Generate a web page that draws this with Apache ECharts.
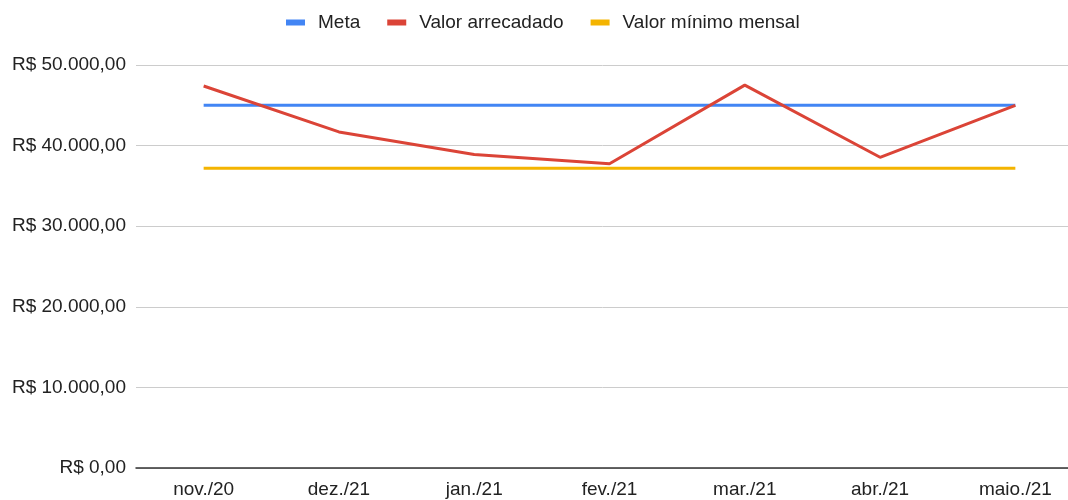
<!DOCTYPE html>
<html>
<head>
<meta charset="utf-8">
<script src="https://cdn.jsdelivr.net/npm/echarts@6/dist/echarts.min.js"></script>
<style>
  html, body { margin: 0; padding: 0; background: #fff; }
  #chart { width: 1068px; height: 500px; }
</style>
</head>
<body>
<div id="chart"></div>
<script>
// dados
const meses = ['nov./20', 'dez./21', 'jan./21', 'fev./21', 'mar./21', 'abr./21', 'maio./21'];
const meta = [45000, 45000, 45000, 45000, 45000, 45000, 45000];
const valorArrecadado = [47400, 41700, 38900, 37750, 47500, 38550, 45000];
const valorMinimo = [37200, 37200, 37200, 37200, 37200, 37200, 37200];

// formata como moeda brasileira: R$ 50.000,00
const formatBRL = (v) => {
  const parts = Math.round(v).toString().replace(/\B(?=(\d{3})+(?!\d))/g, '.');
  return 'R$ ' + parts + ',00';
};

const chart = echarts.init(document.getElementById('chart'));

const lineSeries = (name, data, color) => ({
  name,
  type: 'line',
  data,
  symbol: 'none',
  lineStyle: { color, width: 3 },
  itemStyle: { color },
  emphasis: { disabled: true }
});

chart.setOption({
  animation: false,
  textStyle: { fontFamily: '"Liberation Sans", Arial, sans-serif' },
  legend: {
    top: 8,
    left: 281,
    itemWidth: 19,
    itemHeight: 6,
    itemGap: 27,
    icon: 'rect',
    textStyle: { fontSize: 19, color: '#222', padding: [0, 0, 0, 8] },
    data: ['Meta', 'Valor arrecadado', 'Valor mínimo mensal']
  },
  grid: { left: 136, right: -15, top: 65, bottom: 32, containLabel: false, outerBoundsMode: 'none' },
  xAxis: {
    type: 'category',
    data: meses,
    boundaryGap: true,
    axisLine: { lineStyle: { color: '#333', width: 1.5 } },
    axisTick: { show: false },
    axisLabel: { color: '#222', fontSize: 19, margin: 12, interval: 0 },
    splitLine: { show: false }
  },
  yAxis: {
    type: 'value',
    min: 0,
    max: 50000,
    interval: 10000,
    axisLine: { show: false },
    axisTick: { show: false },
    axisLabel: { color: '#222', fontSize: 19, margin: 10, formatter: formatBRL },
    splitLine: { lineStyle: { color: '#cccccc', width: 1 } }
  },
  series: [
    lineSeries('Meta', meta, '#4285F4'),
    lineSeries('Valor arrecadado', valorArrecadado, '#DB4437'),
    lineSeries('Valor mínimo mensal', valorMinimo, '#F4B400')
  ]
});
</script>
</body>
</html>
